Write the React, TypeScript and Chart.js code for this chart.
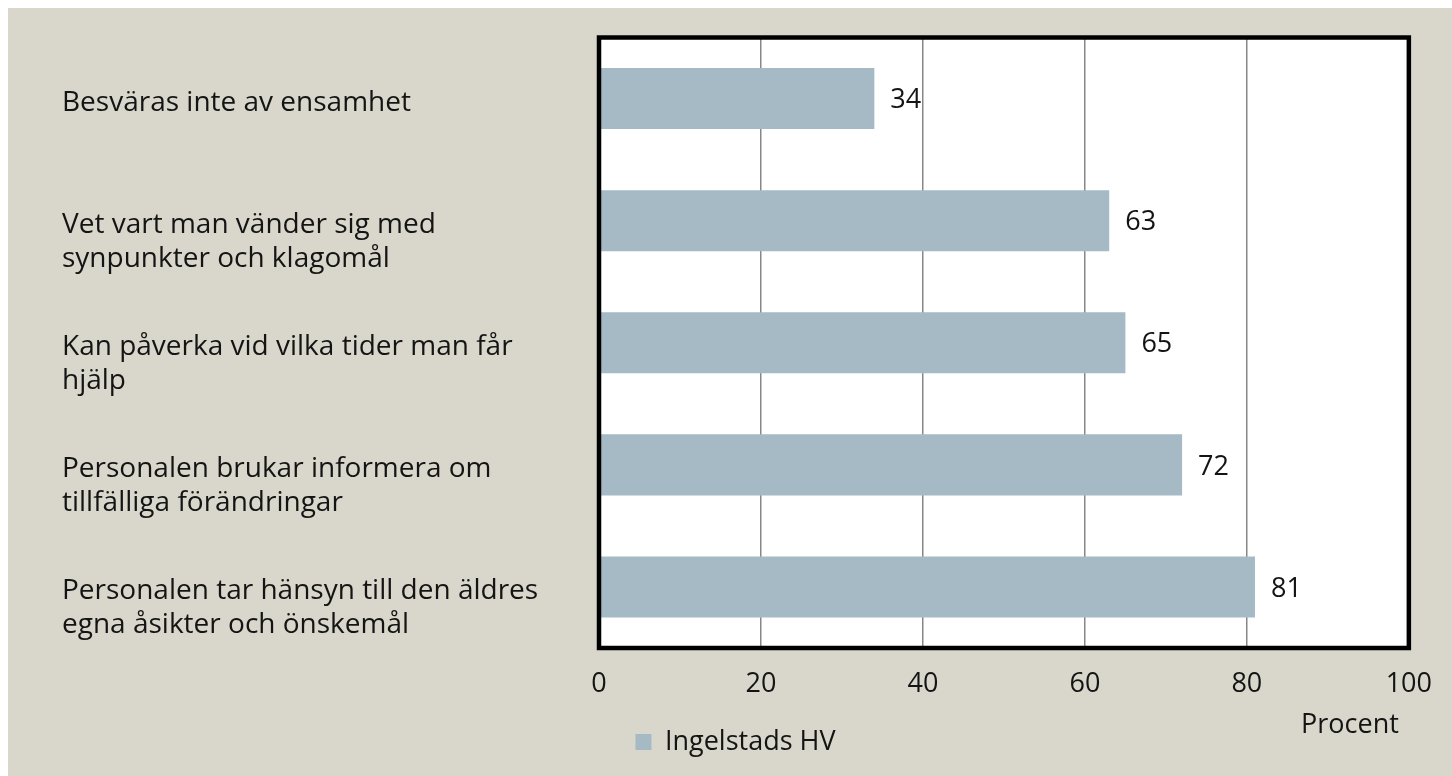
import React, { useEffect, useRef } from "react";
import { Chart, registerables } from "chart.js";

Chart.register(...registerables);

// ---- data ----
const categories: string[][] = [
  ["Besväras inte av ensamhet"],
  ["Vet vart man vänder sig med", "synpunkter och klagomål"],
  ["Kan påverka vid vilka tider man får", "hjälp"],
  ["Personalen brukar informera om", "tillfälliga förändringar"],
  ["Personalen tar hänsyn till den äldres", "egna åsikter och önskemål"],
];
const seriesName = "Ingelstads HV";
const values: number[] = [34, 63, 65, 72, 81];
const xTicks: number[] = [0, 20, 40, 60, 80, 100];
const xAxisTitle = "Procent";

// ---- styles ----
const FONT = "'Open Sans', Lato, sans-serif";
const FONT_SIZE = 27;
const LABEL_SIZE = 28;
const BG = "#d9d7cb";
const BAR = "#a6bac5";
const TEXT = "#141414";
const GRID = "#878787";

const decorPlugin = {
  id: "decor",
  beforeDraw(chart: any) {
    const { ctx, width, height, chartArea } = chart;
    ctx.save();
    ctx.fillStyle = BG;
    ctx.fillRect(0, 0, width, height);
    ctx.fillStyle = "#ffffff";
    ctx.fillRect(chartArea.left, chartArea.top, chartArea.right - chartArea.left, chartArea.bottom - chartArea.top);
    ctx.restore();
  },
  afterDatasetsDraw(chart: any) {
    const { ctx, chartArea } = chart;
    ctx.save();
    // value labels
    const meta = chart.getDatasetMeta(0);
    ctx.font = `${FONT_SIZE}px ${FONT}`;
    ctx.fillStyle = TEXT;
    ctx.textAlign = "left";
    ctx.textBaseline = "middle";
    meta.data.forEach((bar: any, i: number) => {
      ctx.fillText(String(values[i]), bar.x + 16, bar.y + 2);
    });
    // plot border
    ctx.strokeStyle = "#000000";
    ctx.lineWidth = 4.5;
    ctx.lineJoin = "miter";
    ctx.strokeRect(chartArea.left, chartArea.top, chartArea.right - chartArea.left, chartArea.bottom - chartArea.top);
    // axis title
    const xs = chart.scales.x;
    ctx.textAlign = "right";
    ctx.fillText(xAxisTitle, xs.right - 10, chartArea.bottom + 77);
    ctx.restore();
  },
};

export default function App() {
  const ref = useRef<HTMLCanvasElement | null>(null);

  useEffect(() => {
    if (!ref.current) return;
    const labels = categories.map((l) => (l.length > 1 ? ["", ...l] : l));
    const chart = new Chart(ref.current, {
      type: "bar",
      data: {
        labels,
        datasets: [
          {
            label: seriesName,
            data: values,
            backgroundColor: BAR,
            borderWidth: 0,
            barPercentage: 0.5,
            categoryPercentage: 1,
          },
        ],
      },
      options: {
        indexAxis: "y",
        responsive: false,
        animation: false,
        layout: { padding: { left: 54, right: 43, top: 29.5, bottom: 10.6 } },
        plugins: {
          tooltip: { enabled: false },
          legend: {
            position: "bottom",
            labels: {
              boxWidth: 16,
              boxHeight: 16,
              padding: 8,
              color: TEXT,
              font: { family: FONT, size: FONT_SIZE },
            },
          },
        },
        scales: {
          x: {
            type: "linear",
            min: 0,
            max: 100,
            afterBuildTicks: (s: any) => {
              s.ticks = xTicks.map((v) => ({ value: v }));
            },
            ticks: {
              padding: 20,
              color: TEXT,
              font: { family: FONT, size: FONT_SIZE },
            },
            grid: { color: GRID, lineWidth: 1.5, drawTicks: false },
            border: { display: false },
          },
          y: {
            type: "category",
            afterFit: (s: any) => {
              s.width = 537;
              s.paddingTop = 0;
              s.paddingBottom = 0;
            },
            ticks: {
              crossAlign: "far",
              padding: 0,
              labelOffset: 4,
              autoSkip: false,
              color: TEXT,
              font: { family: FONT, size: LABEL_SIZE, lineHeight: 34 / LABEL_SIZE },
            },
            grid: { display: false, drawTicks: false },
            border: { display: false },
          },
        },
      },
      plugins: [decorPlugin],
    } as any);
    return () => chart.destroy();
  }, []);

  return (
    <div style={{ position: "fixed", left: 8, top: 8, width: 1444, height: 768 }}>
      <canvas ref={ref} width={1444} height={768} style={{ display: "block" }} />
    </div>
  );
}
